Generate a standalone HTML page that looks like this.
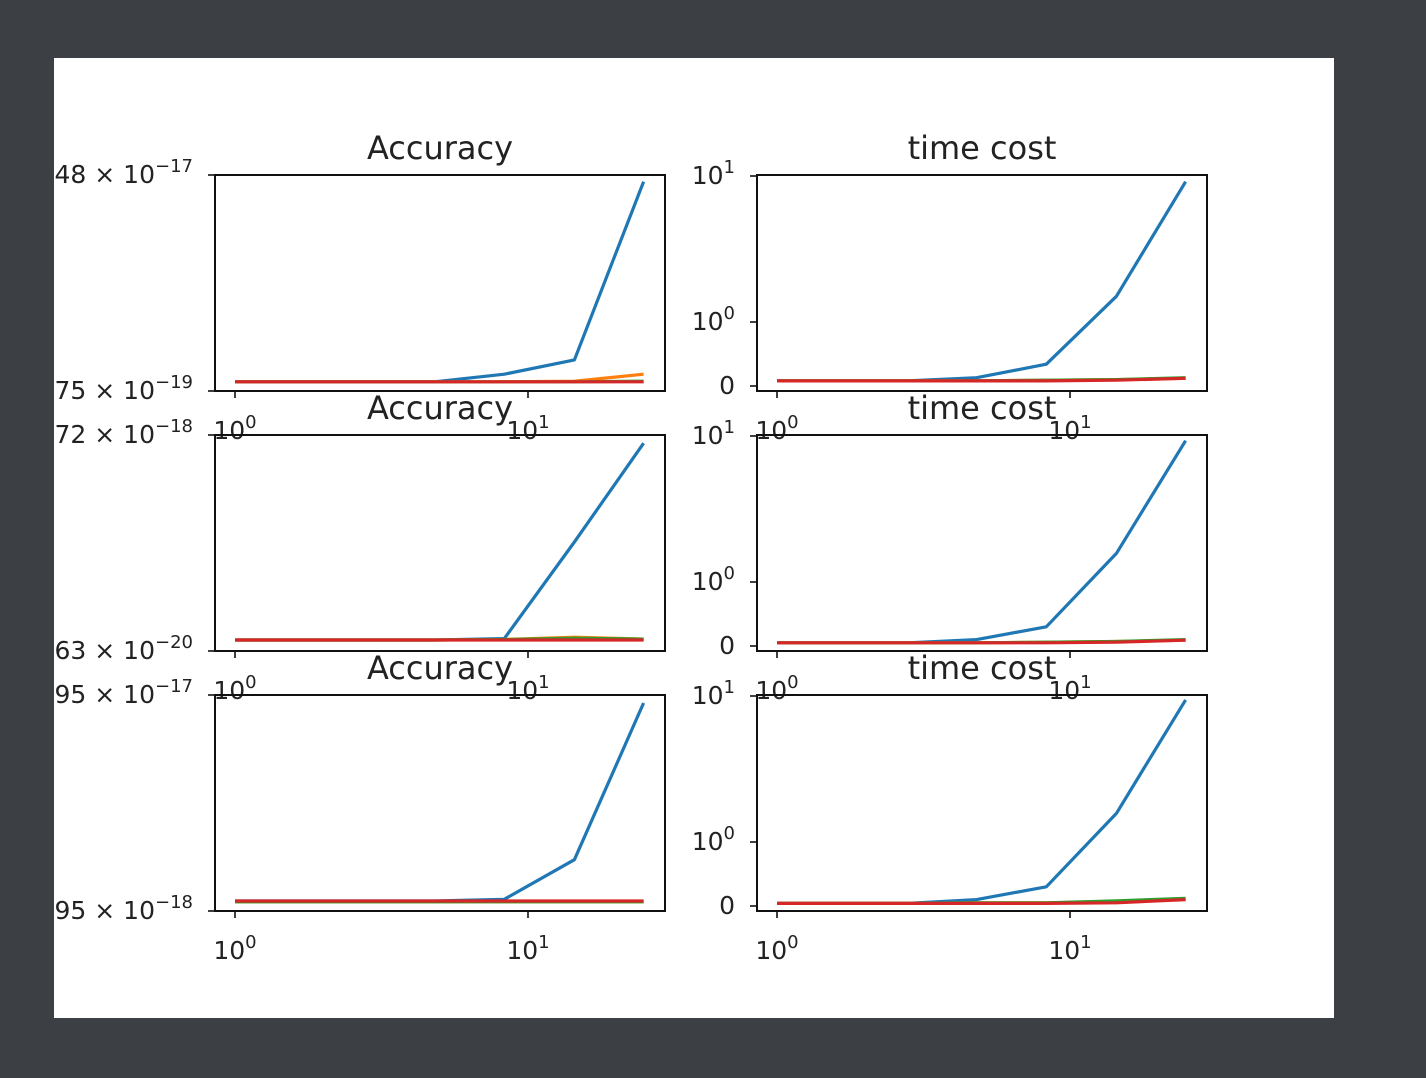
<!DOCTYPE html>
<html><head><meta charset="utf-8"><style>
html,body{margin:0;padding:0;background:#3c3f43;}
svg{display:block;font-family:"DejaVu Sans","Liberation Sans",sans-serif;}
</style></head><body>
<svg id="chart" width="1426" height="1078" viewBox="0 0 1426 1078" xmlns="http://www.w3.org/2000/svg">
<defs><clipPath id="figclip"><rect x="54" y="58" width="1280" height="960"/></clipPath></defs>
<rect x="0" y="0" width="1426" height="1078" fill="#3c3f43"/>
<rect x="54" y="58" width="1280" height="960" fill="#ffffff"/>
<g id="content" clip-path="url(#figclip)"></g>
</svg>
<script>
const xValues = [1, 2.8, 4.8, 8.3, 14.4, 24.8];
const seriesColors = ["#1f77b4", "#ff7f0e", "#2ca02c", "#d62728"];
const seriesNames = ["series-1", "series-2", "series-3", "series-4"];

const acc1Blue = [9.3e-19, 9.3e-19, 9.3e-19, 1.08e-18, 1.43e-18, 4.8e-17];
const acc1Orange = [9.3e-19, 9.3e-19, 9.3e-19, 9.3e-19, 9.4e-19, 1.08e-18];
const acc1Green = [9.3e-19, 9.3e-19, 9.3e-19, 9.3e-19, 9.3e-19, 9.4e-19];
const acc1Red = [9.3e-19, 9.3e-19, 9.3e-19, 9.3e-19, 9.3e-19, 9.3e-19];
const acc2Blue = [6.7e-20, 6.7e-20, 6.7e-20, 6.85e-20, 3.16e-19, 1.51e-18];
const acc2Orange = [6.7e-20, 6.7e-20, 6.7e-20, 6.75e-20, 7.0e-20, 6.8e-20];
const acc2Green = [6.7e-20, 6.7e-20, 6.7e-20, 6.75e-20, 6.9e-20, 6.8e-20];
const acc2Red = [6.7e-20, 6.7e-20, 6.7e-20, 6.7e-20, 6.7e-20, 6.7e-20];
const acc3Blue = [2.17e-18, 2.17e-18, 2.17e-18, 2.21e-18, 3.37e-18, 1.79e-17];
const acc3Orange = [2.15e-18, 2.15e-18, 2.15e-18, 2.15e-18, 2.15e-18, 2.15e-18];
const acc3Green = [2.15e-18, 2.15e-18, 2.15e-18, 2.15e-18, 2.15e-18, 2.15e-18];
const acc3Red = [2.17e-18, 2.17e-18, 2.17e-18, 2.17e-18, 2.17e-18, 2.17e-18];
const accYMin = [7.75e-19, 5.63e-20, 1.95e-18];
const accYMax = [5.48e-17, 1.72e-18, 1.95e-17];
const accTopMant = ["5.48", "1.72", "1.95"];
const accTopExp = ["−17", "−18", "−17"];
const accBotMant = ["7.75", "5.63", "1.95"];
const accBotExp = ["−19", "−20", "−18"];

const time1Blue = [0.08, 0.08, 0.13, 0.34, 1.5, 9.14];
const time1Orange = [0.08, 0.08, 0.08, 0.09, 0.1, 0.12];
const time1Green = [0.08, 0.08, 0.08, 0.09, 0.1, 0.13];
const time1Red = [0.08, 0.08, 0.08, 0.08, 0.09, 0.12];
const time2Blue = [0.05, 0.05, 0.1, 0.3, 1.57, 9.29];
const time2Orange = [0.05, 0.05, 0.05, 0.06, 0.07, 0.09];
const time2Green = [0.05, 0.05, 0.05, 0.06, 0.07, 0.1];
const time2Red = [0.05, 0.05, 0.05, 0.05, 0.06, 0.09];
const time3Blue = [0.04, 0.04, 0.1, 0.3, 1.57, 9.4];
const time3Orange = [0.04, 0.04, 0.05, 0.05, 0.07, 0.11];
const time3Green = [0.04, 0.04, 0.05, 0.05, 0.08, 0.12];
const time3Red = [0.04, 0.04, 0.04, 0.04, 0.05, 0.1];
const timeTicks = [0, 1, 10];
const timeTickMant = ["0", "10", "10"];
const timeTickExp = ["", "0", "1"];
const xTickVals = [1, 10];
const xTickExp = ["0", "1"];

const accData = [[acc1Blue, acc1Orange, acc1Green, acc1Red],[acc2Blue, acc2Orange, acc2Green, acc2Red],[acc3Blue, acc3Orange, acc3Green, acc3Red]];
const timeData = [[time1Blue, time1Orange, time1Green, time1Red],[time2Blue, time2Orange, time2Green, time2Red],[time3Blue, time3Orange, time3Green, time3Red]];

const NS = "http://www.w3.org/2000/svg";
const root = document.getElementById("content");
function mk(tag, attrs, parent){const e=document.createElementNS(NS,tag);for(const k in attrs)e.setAttribute(k,attrs[k]);(parent||root).appendChild(e);return e;}

const rowTops = [175, 435, 695];
const H = 216;
const cols = [{left:215, w:450}, {left:757, w:450}];

function xScale(left, v){ return left + 20 + 293 * Math.log10(v); }
function accY(row, v){ const b=rowTops[row]+H, t=rowTops[row]; const f=(Math.log10(v)-Math.log10(accYMin[row]))/(Math.log10(accYMax[row])-Math.log10(accYMin[row])); return b - f*(b-t); }
function timeY(row, v){ const b=rowTops[row]+H-5; const lin=64, dec=H-5-64-1; if(v<=1) return b-lin*v; return b-lin-dec*Math.log10(v); }

function sciLabel(g, x, y, mant, exp, anchor){
  const t = mk("text",{x:x,y:y+8,"font-size":"25","fill":"#222","text-anchor":anchor},g);
  const a = mk("tspan",{},t); a.textContent = mant;
  if(exp!==""){ const s = mk("tspan",{"font-size":"18",dy:"-11"},t); s.textContent = exp; }
  return t;
}

for(let r=0;r<3;r++){
  for(let c=0;c<2;c++){
    const col = cols[c], top = rowTops[r], bot = top+H;
    const g = mk("g",{});
    
    
    const data = c===0 ? accData[r] : timeData[r];
    for(let s=0;s<4;s++){
      const pts = xValues.map((xv,i)=> xScale(col.left,xv).toFixed(1)+","+(c===0?accY(r,data[s][i]):timeY(r,data[s][i])).toFixed(1)).join(" ");
      const pl = mk("polyline",{points:pts,fill:"none",stroke:seriesColors[s],"stroke-width":"3.2","stroke-linejoin":"round"},g);
      
      
    }
    const fr = mk("rect",{x:col.left,y:top,width:col.w,height:H,fill:"none",stroke:"#111","stroke-width":"2"},g);
    
    
    for(let i=0;i<xTickVals.length;i++){
      const x = xScale(col.left, xTickVals[i]);
      mk("line",{x1:x,y1:bot,x2:x,y2:bot+7,stroke:"#111","stroke-width":"1.6"},g);
      const lab = sciLabel(g, x, bot+40, "10", xTickExp[i], "middle");
      
      
    }
    if(c===0){
      mk("line",{x1:col.left-7,y1:top,x2:col.left,y2:top,stroke:"#111","stroke-width":"1.6"},g);
      mk("line",{x1:col.left-7,y1:bot,x2:col.left,y2:bot,stroke:"#111","stroke-width":"1.6"},g);
      const l1 = sciLabel(g, 193, top, accTopMant[r]+" × 10", accTopExp[r], "end");
      
      
      const l2 = sciLabel(g, 193, bot, accBotMant[r]+" × 10", accBotExp[r], "end");
      
      
    } else {
      for(let i=0;i<timeTicks.length;i++){
        const y = timeY(r, timeTicks[i]);
        mk("line",{x1:col.left-7,y1:y,x2:col.left,y2:y,stroke:"#111","stroke-width":"1.6"},g);
        const lab = sciLabel(g, 735, y, timeTickMant[i], timeTickExp[i], "end");
        
        
      }
    }
    const tt = mk("text",{x:col.left+col.w/2,y:top-16,"font-size":"32","fill":"#222","text-anchor":"middle"},g);
    tt.textContent = c===0 ? "Accuracy" : "time cost";
    
    
  }
}
</script>
</body></html>
